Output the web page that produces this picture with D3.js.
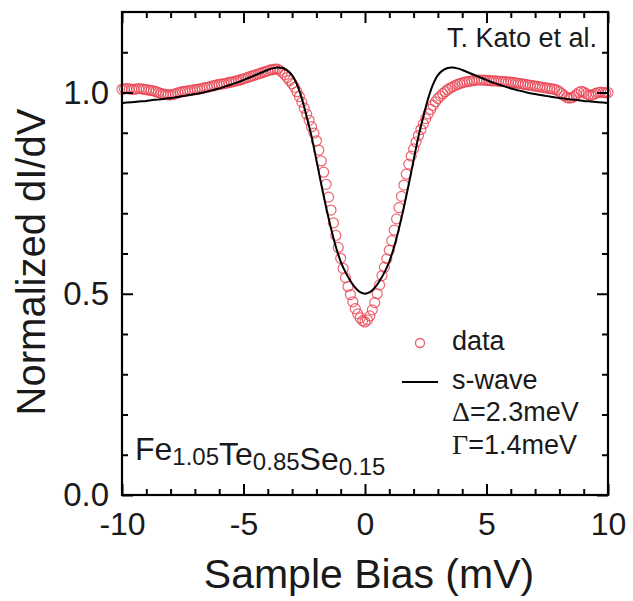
<!DOCTYPE html>
<html>
<head>
<meta charset="utf-8">
<script src="https://cdn.jsdelivr.net/npm/d3@7"></script>
<style>
  html, body { margin: 0; padding: 0; background: #fff; }
  svg { display: block; }
  text { font-family: "Liberation Sans", Arial, sans-serif; fill: #1a1a1a; }
</style>
</head>
<body>
<svg id="chart" width="633" height="601"></svg>
<script>
// Tunneling spectrum: sample bias from -10 to +10 mV in 0.1 mV steps
const biasStart = -10;
const biasStep = 0.1;
const dataValues = [
  1.008, 1.009, 1.010, 1.009, 1.008, 1.008, 1.009, 1.010, 1.009, 1.008,
  1.007, 1.006, 1.005, 1.004, 1.002, 1.000, 0.998, 0.996, 0.995, 0.994,
  0.994, 0.995, 0.997, 0.999, 1.001, 1.002, 1.003, 1.004, 1.005, 1.006,
  1.007, 1.008, 1.009, 1.010, 1.012, 1.013, 1.014, 1.016, 1.017, 1.019,
  1.020, 1.021, 1.022, 1.023, 1.025, 1.026, 1.027, 1.029, 1.030, 1.032,
  1.034, 1.036, 1.038, 1.040, 1.042, 1.044, 1.046, 1.048, 1.050, 1.052,
  1.054, 1.056, 1.057, 1.058, 1.058, 1.055, 1.050, 1.044, 1.037, 1.030,
  1.022, 1.013, 1.002, 0.990, 0.976, 0.961, 0.946, 0.931, 0.915, 0.899,
  0.880, 0.857, 0.830, 0.802, 0.772, 0.740, 0.708, 0.676, 0.645, 0.615,
  0.588, 0.563, 0.540, 0.518, 0.498, 0.480, 0.463, 0.450, 0.440, 0.433,
  0.430,
  0.435, 0.445, 0.460, 0.478, 0.500, 0.522, 0.545, 0.566, 0.587, 0.608,
  0.632, 0.658, 0.686, 0.714, 0.742, 0.770, 0.797, 0.822, 0.842, 0.860,
  0.877, 0.893, 0.908, 0.922, 0.935, 0.947, 0.958, 0.968, 0.977, 0.985,
  0.991, 0.997, 1.002, 1.007, 1.011, 1.014, 1.017, 1.020, 1.022, 1.024,
  1.026, 1.027, 1.028, 1.029, 1.030, 1.031, 1.031, 1.031, 1.031, 1.030,
  1.030, 1.029, 1.029, 1.029, 1.028, 1.028, 1.027, 1.027, 1.026, 1.026,
  1.025, 1.024, 1.023, 1.022, 1.021, 1.020, 1.019, 1.018, 1.017, 1.016,
  1.015, 1.014, 1.013, 1.012, 1.011, 1.010, 1.009, 1.008, 1.006, 1.002,
  0.997, 0.992, 0.988, 0.986, 0.987, 0.990, 0.995, 1.000, 1.003, 1.001,
  0.997, 0.994, 0.993, 0.995, 0.998, 1.000, 1.001, 1.000, 0.999, 1.000
];

// s-wave (Dynes) fit, sampled every 0.2 mV from -10 to +10 mV
const fitStart = -10;
const fitStep = 0.2;
const fitValues = [
  0.974, 0.975, 0.976, 0.977, 0.978, 0.979, 0.981, 0.982, 0.983, 0.985,
  0.986, 0.988, 0.990, 0.992, 0.994, 0.996, 0.998, 1.001, 1.004, 1.007,
  1.010, 1.014, 1.018, 1.022, 1.026, 1.031, 1.036, 1.041, 1.046, 1.051,
  1.056, 1.060, 1.062, 1.061, 1.055, 1.043, 1.020, 0.985, 0.940, 0.891,
  0.832, 0.772, 0.715, 0.663, 0.617, 0.580, 0.553, 0.532, 0.515, 0.504,
  0.500,
  0.504, 0.515, 0.532, 0.553, 0.580, 0.617, 0.663, 0.715, 0.772, 0.832,
  0.891, 0.940, 0.985, 1.020, 1.043, 1.055, 1.061, 1.062, 1.060, 1.056,
  1.051, 1.046, 1.041, 1.036, 1.031, 1.026, 1.022, 1.018, 1.014, 1.010,
  1.007, 1.004, 1.001, 0.998, 0.996, 0.994, 0.992, 0.990, 0.988, 0.986,
  0.985, 0.983, 0.982, 0.981, 0.979, 0.978, 0.977, 0.976, 0.975, 0.974
];

const xMajorTicks = [-10, -5, 0, 5, 10];
const xMinorTicks = [-9, -8, -7, -6, -4, -3, -2, -1, 1, 2, 3, 4, 6, 7, 8, 9];
const yMajorTicks = [0.0, 0.5, 1.0];
const yMinorTicks = [0.1, 0.2, 0.3, 0.4, 0.6, 0.7, 0.8, 0.9, 1.1];

const legendLabels = ["data", "s-wave"];
const fitParams = [["Δ", "=2.3meV"], ["Γ", "=1.4meV"]];

const dataPoints = dataValues.map((v, i) => ({ x: +(biasStart + i * biasStep).toFixed(2), y: v }));
const fitPoints = fitValues.map((v, i) => ({ x: +(fitStart + i * fitStep).toFixed(2), y: v }));

const svg = d3.select("#chart");
const plot = { left: 122, right: 608, top: 12, bottom: 495 };

const x = d3.scaleLinear().domain([-10, 10]).range([plot.left, plot.right]);
const y = d3.scaleLinear().domain([0, 1.2]).range([plot.bottom, plot.top]);

const red = "#e8404f";

// measured spectrum as open circles
svg.append("g")
  .selectAll("circle")
  .data(dataPoints)
  .join("circle")
  .attr("cx", d => x(d.x))
  .attr("cy", d => y(d.y))
  .attr("r", 5)
  .attr("fill", "none")
  .attr("stroke", red)
  .attr("stroke-opacity", 0.8)
  .attr("stroke-width", 1.2);

// fitted curve
svg.append("path")
  .datum(fitPoints)
  .attr("fill", "none")
  .attr("stroke", "#000")
  .attr("stroke-width", 2)
  .attr("d", d3.line().x(d => x(d.x)).y(d => y(d.y)).curve(d3.curveCatmullRom));

// ticks on all four sides, pointing inward
function styleAxis(g) {
  g.select(".domain").remove();
  g.selectAll(".tick line").attr("stroke", "#000").attr("stroke-width", 2);
  g.selectAll("text").style("font-family", "Liberation Sans, Arial, sans-serif").attr("fill", "#1a1a1a");
}
const majorLen = 11, minorLen = 6;
const hyphenInt = d => String(d);           // plain hyphen-minus, as in the printed axis
const oneDecimal = d => d.toFixed(1);

svg.append("g").attr("transform", `translate(0,${plot.bottom})`)
  .call(d3.axisBottom(x).tickValues(xMajorTicks).tickSizeInner(-majorLen).tickSizeOuter(0)
    .tickPadding(17).tickFormat(hyphenInt))
  .call(styleAxis)
  .call(g => g.selectAll("text").attr("font-size", 32));
svg.append("g").attr("transform", `translate(0,${plot.bottom})`)
  .call(d3.axisBottom(x).tickValues(xMinorTicks).tickSizeInner(-minorLen).tickSizeOuter(0).tickFormat(""))
  .call(styleAxis);
svg.append("g").attr("transform", `translate(0,${plot.top})`)
  .call(d3.axisTop(x).tickValues(xMajorTicks).tickSizeInner(-majorLen).tickSizeOuter(0).tickFormat(""))
  .call(styleAxis);
svg.append("g").attr("transform", `translate(0,${plot.top})`)
  .call(d3.axisTop(x).tickValues(xMinorTicks).tickSizeInner(-minorLen).tickSizeOuter(0).tickFormat(""))
  .call(styleAxis);

svg.append("g").attr("transform", `translate(${plot.left},0)`)
  .call(d3.axisLeft(y).tickValues(yMajorTicks).tickSizeInner(-majorLen).tickSizeOuter(0)
    .tickPadding(13).tickFormat(oneDecimal))
  .call(styleAxis)
  .call(g => g.selectAll("text").attr("font-size", 33));
svg.append("g").attr("transform", `translate(${plot.left},0)`)
  .call(d3.axisLeft(y).tickValues(yMinorTicks).tickSizeInner(-minorLen).tickSizeOuter(0).tickFormat(""))
  .call(styleAxis);
svg.append("g").attr("transform", `translate(${plot.right},0)`)
  .call(d3.axisRight(y).tickValues(yMajorTicks).tickSizeInner(-majorLen).tickSizeOuter(0).tickFormat(""))
  .call(styleAxis);
svg.append("g").attr("transform", `translate(${plot.right},0)`)
  .call(d3.axisRight(y).tickValues(yMinorTicks).tickSizeInner(-minorLen).tickSizeOuter(0).tickFormat(""))
  .call(styleAxis);

// plot frame
svg.append("rect")
  .attr("x", plot.left).attr("y", plot.top)
  .attr("width", plot.right - plot.left).attr("height", plot.bottom - plot.top)
  .attr("fill", "none").attr("stroke", "#000").attr("stroke-width", 2.2);

// axis titles
svg.append("text")
  .attr("x", 369).attr("y", 588)
  .attr("text-anchor", "middle").attr("font-size", 41)
  .text("Sample Bias (mV)");
svg.append("text")
  .attr("transform", "translate(45,262) rotate(-90)")
  .attr("text-anchor", "middle").attr("font-size", 40)
  .text("Normalized dI/dV");

// attribution
svg.append("text")
  .attr("x", 597).attr("y", 47)
  .attr("text-anchor", "end").attr("font-size", 27)
  .text("T. Kato et al.");

// composition label with subscripts
const formula = [["Fe", "1.05"], ["Te", "0.85"], ["Se", "0.15"]];
const ft = svg.append("text").attr("x", 135).attr("y", 460).attr("font-size", 32);
formula.forEach(([el, sub]) => {
  ft.append("tspan").attr("dy", 0).text(el);
  ft.append("tspan").attr("font-size", 24).attr("dy", 5).text(sub);
  ft.append("tspan").attr("dy", -5).text("");
});

// legend
const lg = svg.append("g");
lg.append("circle").attr("cx", 420).attr("cy", 343).attr("r", 4.5)
  .attr("fill", "none").attr("stroke", red).attr("stroke-opacity", 0.85).attr("stroke-width", 1.3);
lg.append("line").attr("x1", 402).attr("x2", 438).attr("y1", 382).attr("y2", 382)
  .attr("stroke", "#000").attr("stroke-width", 2);
lg.append("text").attr("x", 452).attr("y", 350).attr("font-size", 27).text(legendLabels[0]);
lg.append("text").attr("x", 452).attr("y", 389).attr("font-size", 27).text(legendLabels[1]);
fitParams.forEach(([sym, rest], i) => {
  const t = lg.append("text").attr("x", 452).attr("y", 421 + i * 33).attr("font-size", 27);
  t.append("tspan").style("font-family", "Liberation Serif, Times New Roman, serif").attr("font-size", 28).text(sym);
  t.append("tspan").text(rest);
});
</script>
</body>
</html>
